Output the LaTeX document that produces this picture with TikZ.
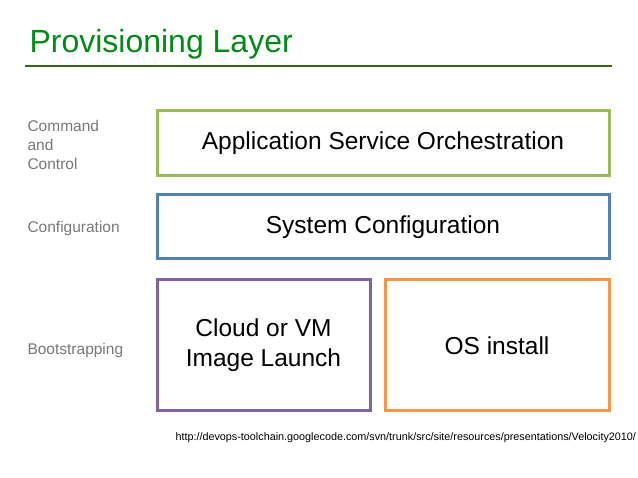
\documentclass[tikz,border=0pt]{standalone}
\usepackage{fontspec}
\setmainfont{Liberation Sans}
\usetikzlibrary{positioning}
\definecolor{titlegreen}{RGB}{0,140,20}
\definecolor{rulegreen}{RGB}{60,100,20}
\definecolor{layergreen}{RGB}{155,187,89}
\definecolor{layerblue}{RGB}{79,129,189}
\definecolor{layerpurple}{RGB}{128,100,162}
\definecolor{layerorange}{RGB}{247,150,70}
\definecolor{labelgray}{RGB}{120,120,120}
\begin{document}
\begin{tikzpicture}[
    x=1pt, y=-1pt,
    % node styles
    layer/.style = {
      draw,
      line width=3pt,
      inner sep=0pt,
      align=center,
      font=\fontsize{24.5}{30}\selectfont
    },
    side/.style = {
      anchor=west,
      align=left,
      text=labelgray,
      font=\fontsize{15.5}{19}\selectfont
    }
  ]
  \useasboundingbox (0,0) rectangle (638,478);

  % --- Title
  \node[anchor=west, text=titlegreen, font=\fontsize{32}{38}\selectfont] (title) at (26,44) {Provisioning Layer};
  \draw[rulegreen, line width=1.5pt] (25,66) -- (612,66);

  % --- Layers
  \node[layer, draw=layergreen, minimum width=452pt, minimum height=65pt] (orch) at (383,143.5) {Application Service Orchestration};
  \node[layer, draw=layerblue, minimum width=452pt, minimum height=64pt] (conf) at (383,227) {System Configuration};
  \node[layer, draw=layerpurple, minimum width=213pt, minimum height=131pt] (cloud) at (263.5,345.5) {Cloud or VM\\Image Launch};
  \node[layer, draw=layerorange, minimum width=224pt, minimum height=131pt] (os) at (497,345.5) {OS install};

  % --- Side labels
  \node[side] (cmd) at (24,145) {Command\\and\\Control};
  \node[side] (cfg) at (24,228) {Configuration};
  \node[side] (boot) at (24,350) {Bootstrapping};

  % --- Source
  \node[anchor=west, font=\fontsize{10.8}{13}\selectfont] (src) at (172,438)
    {http://devops-toolchain.googlecode.com/svn/trunk/src/site/resources/presentations/Velocity2010/};
\end{tikzpicture}
\end{document}
